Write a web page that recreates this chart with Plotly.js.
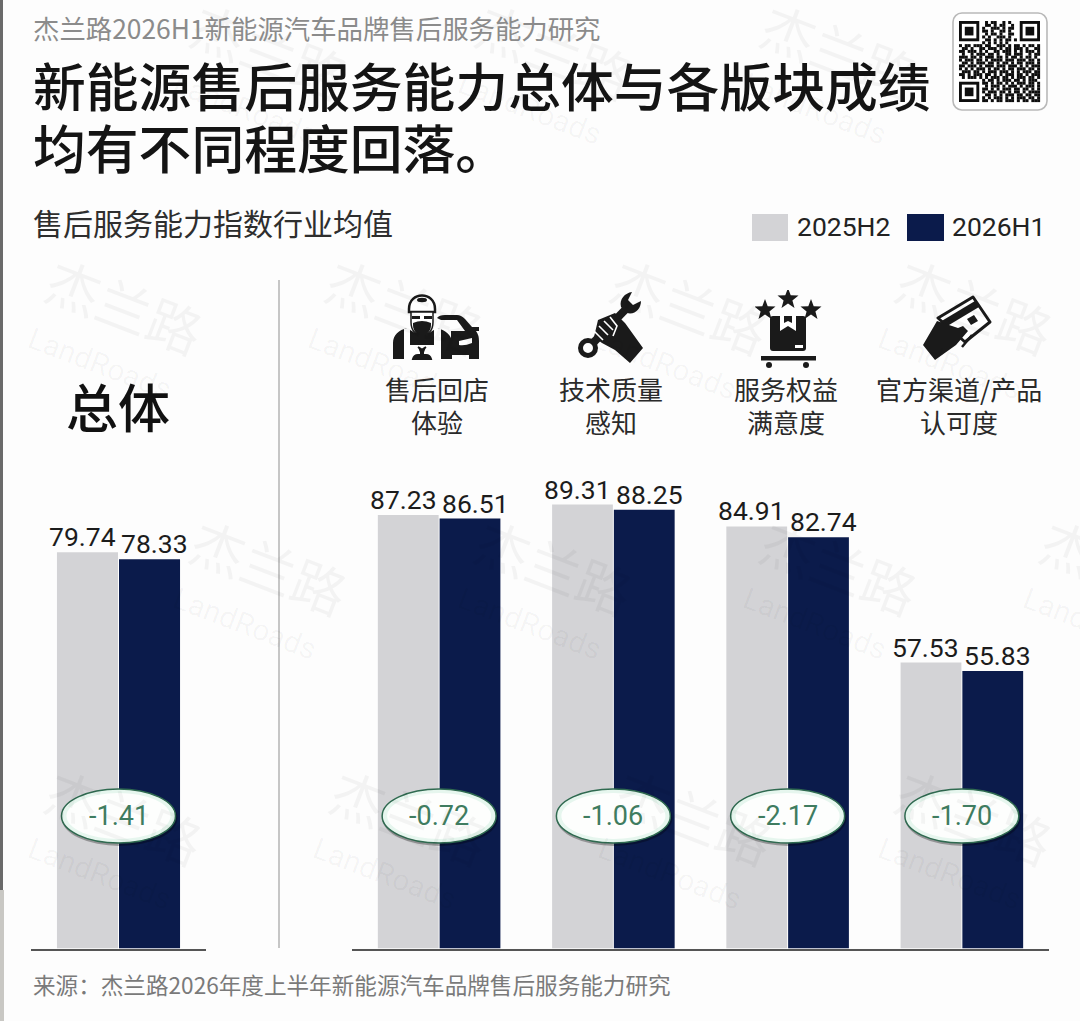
<!DOCTYPE html>
<html><head><meta charset="utf-8">
<script src="https://cdn.plot.ly/plotly-3.0.1.min.js"></script>
<style>html,body{margin:0;padding:0;background:#fdfdfd}#chart{width:1080px;height:1021px}</style>
</head><body><div id="chart"></div>
<script>
// ---- data ----
const seriesNames = ['2025H2', '2026H1'];
const overallCategory = ['总体'];
const overallPrev = [79.74];
const overallCurr = [78.33];
const overallDelta = ['-1.41'];
const categories = ['售后回店体验', '技术质量感知', '服务权益满意度', '官方渠道/产品认可度'];
const categoryLines = [['售后回店', '体验'], ['技术质量', '感知'], ['服务权益', '满意度'], ['官方渠道/产品', '认可度']];
const valuesPrev = [87.23, 89.31, 84.91, 57.53];
const valuesCurr = [86.51, 88.25, 82.74, 55.83];
const deltas = ['-0.72', '-1.06', '-2.17', '-1.70'];
const overline = '杰兰路2026H1新能源汽车品牌售后服务能力研究';
const titleLines = ['新能源售后服务能力总体与各版块成绩', '均有不同程度回落。'];
const subtitle = '售后服务能力指数行业均值';
const sourceText = '来源：杰兰路2026年度上半年新能源汽车品牌售后服务能力研究';

// ---- style ----
const GRAY = '#d3d3d6', NAVY = '#0b1b4b';
const CJK = '"Noto Sans CJK SC","Noto Sans",sans-serif';
const NUM = 'Roboto,"Noto Sans",sans-serif';
const W = 1080, H = 1021;
const px = x => x / W, py = y => 1 - y / H;

function txt(text, x, y, size, color, opt) {
  return Object.assign({xref:'paper', yref:'paper', x:px(x), y:py(y), text, showarrow:false,
    xanchor:'left', yanchor:'middle', borderpad:0,
    font:{family:CJK, size, color}}, opt||{});
}
const annotations = [];
// watermark
const wmCentres = [[270,50],[555,50],[840,50],[125,305],[405,305],[690,305],[975,305],[270,565],[555,565],[840,565],[1120,565],
  [125,815],[410,815],[695,815],[975,815]];
wmCentres.forEach(c => {
  annotations.push(txt('杰兰路', c[0], c[1], 54, 'rgba(0,0,0,0.04)', {xanchor:'center', textangle:21}));
  annotations.push(txt('LandRoads', c[0]-25, c[1]+58, 30, 'rgba(0,0,0,0.035)', {xanchor:'center', textangle:21, font:{family:NUM,size:30,color:'rgba(0,0,0,0.035)'}}));
});
// header text
annotations.push(txt(overline, 32, 28, 26.4, '#8b8b8b'));
annotations.push(txt(titleLines[0], 32, 84, 52.8, '#141414', {font:{family:CJK,size:52.8,color:'#141414',weight:500}}));
annotations.push(txt(titleLines[1], 32, 146, 52.8, '#141414', {font:{family:CJK,size:52.8,color:'#141414',weight:500}}));
annotations.push(txt(subtitle, 32, 222, 30, '#2e2e2e'));
annotations.push(txt(sourceText, 32, 984, 22.6, '#7a7a7a'));
// legend
annotations.push(txt(seriesNames[0], 796, 227, 26.5, '#222', {font:{family:NUM,size:26.5,color:'#222'}}));
annotations.push(txt(seriesNames[1], 951, 227, 26.5, '#222', {font:{family:NUM,size:26.5,color:'#222'}}));
// headings
annotations.push(txt(overallCategory[0], 118, 405, 52, '#111', {xanchor:'center', font:{family:CJK,size:52,color:'#111',weight:500}}));
categories.forEach((c,i) => {
  categoryLines[i].forEach((l,k) => {
    annotations.push({xref:'x2', yref:'paper', x:c, y:py(389+32*k), xshift:-2-(i==3?1:0), text:l, showarrow:false,
      xanchor:'center', yanchor:'middle', borderpad:0, font:{family:CJK,size:26,color:'#2a2a2a'}});
  });
});
// value labels
function valueLabel(xa, ya, cat, val, shift) {
  annotations.push({xref:xa, yref:ya, x:cat, y:val, xshift:shift, yshift:-1, text:val.toFixed(2), showarrow:false,
    xanchor:'center', yanchor:'bottom', borderpad:0, font:{family:NUM,size:26.5,color:'#1c1c1c'}});
}
valueLabel('x','y',overallCategory[0],overallPrev[0],-36);
valueLabel('x','y',overallCategory[0],overallCurr[0],36);
categories.forEach((c,i) => { valueLabel('x2','y2',c,valuesPrev[i],-36); valueLabel('x2','y2',c,valuesCurr[i],36); });

// change pills
const PILL_VALUE = 26.66;
const shapes = [];
function pill(xa, ya, cat, label) {
  const mk = (dx,dy,rx,ry,fill,line,lw) => ({type:'circle', layer:'above', xref:xa, yref:ya,
    xsizemode:'pixel', ysizemode:'pixel', xanchor:cat, yanchor:PILL_VALUE,
    x0:dx-rx, x1:dx+rx, y0:dy-ry, y1:dy+ry, fillcolor:fill, line:{color:line, width:lw}});
  shapes.push(mk(1,-2,58,28,'rgba(0,0,0,0.30)','rgba(0,0,0,0)',0));
  shapes.push(mk(0,0,57,27,'#e6f6ee','#2f6a50',1.5));
  shapes.push(mk(0,0,52,23,'#fdfefd','rgba(0,0,0,0)',0));
  annotations.push({xref:xa, yref:ya, x:cat, y:PILL_VALUE, text:label, showarrow:false,
    xanchor:'center', yanchor:'middle', borderpad:0, font:{family:NUM,size:27,color:'#3f7c60'}});
}
pill('x','y',overallCategory[0],overallDelta[0]);
categories.forEach((c,i) => pill('x2','y2',c,deltas[i]));

// static page furniture
const rect = (x0,y0,x1,y1,fill) => ({type:'rect', xref:'paper', yref:'paper', x0:px(x0), x1:px(x1), y0:py(y1), y1:py(y0), fillcolor:fill, line:{width:0}});
shapes.push(rect(0,0,3,890,'#6a6a6a'), rect(0,890,4,1021,'#c9c8c4'));
shapes.push(rect(752,214,788,241,GRAY), rect(907,214,944,241,NAVY));
shapes.push({type:'line', xref:'paper', yref:'paper', x0:px(279), x1:px(279), y0:py(280), y1:py(948), line:{color:'#c6c6c6', width:2}});

// ---- decorative images ----
const svgURI = s => 'data:image/svg+xml;charset=utf-8,' + encodeURIComponent(s);
const qrRows = [
'.........#.##..#.#..........',
'.........##.#.##..#.........',
'........#..###.#.##.........',
'........##.#..##.#..........',
'.........#.##.#..##.........',
'........#.#..###.#..........',
'.........##.#.#.##.#........',
'........#.#.#.#.#...........',
'#.##.###.##..###.#.##.#.##.#',
'.##.#..##.###.#.##.###.#..##',
'##.###.#.#..##.###.#.#.###.#',
'.#..#.###.##.#..##.###..#.##',
'###.##.#.###.##.#.##.#.##.#.',
'#.###.##.#.####.###.###.##.#',
'.##.#.###.##.#.##.#.##.###.#',
'##.###.#.###.###.###.#.#.###',
'#.#.#.###.#.##.#.##.###.##.#',
'.###.##.#.###.###.#.#.###.##',
'##.#.###.##.#.#.###.##.#.###',
'.#.###.#.#.###.##.#.###.##.#',
'........#.##.#.###.##.#.###.',
'........##.#.##.#.#.###.##.#',
'.........#.###.#.###.#.###.#',
'........##.#.#.###.##.##.#.#',
'........#.###.##.#.##.#.####',
'.........##.#.#.###.##.##.##',
'........#.#.###.#.#.###.##.#',
'........##.#.##.###.#.##.###'];
let qr = '<svg xmlns="http://www.w3.org/2000/svg" viewBox="0 0 96 99"><defs><filter id="b"><feGaussianBlur stdDeviation="0.4"/></filter></defs><rect x="1" y="1" width="94" height="97" rx="9" fill="#fff" stroke="#b9b9b9" stroke-width="1.6"/><g transform="translate(7,9)" fill="#111" filter="url(#b)">';
const M = 81/28;
qrRows.forEach((r,y)=>{ for(let x=0;x<r.length;x++) if(r[x]==='#') qr += `<rect x="${(x*M).toFixed(2)}" y="${(y*M).toFixed(2)}" width="${(M+.1).toFixed(2)}" height="${(M+.1).toFixed(2)}"/>`; });
[[0,0],[21,0],[0,21]].forEach(p=>{ const x=p[0]*M,y=p[1]*M;
  qr += `<rect x="${x}" y="${y}" width="${7*M}" height="${7*M}"/><rect x="${x+M}" y="${y+M}" width="${5*M}" height="${5*M}" fill="#fff"/><rect x="${x+2*M}" y="${y+2*M}" width="${3*M}" height="${3*M}"/>`;});
qr += '</g></svg>';

const iconMechanic = `<svg xmlns="http://www.w3.org/2000/svg" viewBox="0 0 100 80">
<path d="M52 33 Q54 30 60 30 H72 Q76 30 80 34 L87 42 H94 V46 H91 Q94 50 94 56 V74 H84 V70 H66 V46 H80 L72 35 H56Z" fill="#1a1a1a"/>
<path d="M74 56 L87 53 V58 Q80 61 74 60Z" fill="#fff"/>
<path d="M24 24 C24 6 50 6 50 24 V27 H24Z" fill="#fff" stroke="#1a1a1a" stroke-width="2.5"/>
<ellipse cx="37" cy="15" rx="5" ry="2.2" fill="#1a1a1a"/>
<path d="M26 27 H48 V37 C48 47 42 50 37 50 C32 50 26 47 26 37Z" fill="#fff" stroke="#1a1a1a" stroke-width="1.5"/>
<path d="M27 31 H35 V34 H27Z M39 31 H47 V34 H39Z" fill="#1a1a1a"/>
<path d="M28 38 Q37 34 46 38 V40 C46 47 41 50 37 50 C33 50 28 47 28 40Z" fill="#1a1a1a"/>
<path d="M8 74 V58 C8 50 14 45 22 43 L30 48 H44 L52 43 C60 45 67 50 67 58 V74Z" fill="#1a1a1a"/>
<path d="M19 74 V44 L25 42 V60 H49 V42 L56 44 V74Z" fill="#fff"/>
<path d="M28 74 Q29 70 33 70 H41 Q45 70 46 74Z M36 70 V64 L33 62 M38 70 V64 L41 62" fill="#1a1a1a" stroke="#1a1a1a" stroke-width="2"/></svg>`;
const iconWrench = `<svg xmlns="http://www.w3.org/2000/svg" viewBox="0 0 75 75">
<circle cx="13" cy="58" r="7.5" fill="none" stroke="#1a1a1a" stroke-width="5"/>
<path d="M19 52 L50 20" stroke="#1a1a1a" stroke-width="8"/>
<path d="M46 17 C44 9 50 3 57 2 L53 10 L58 15 L66 11 C66 19 60 25 52 23Z" fill="#1a1a1a"/>
<path d="M23 30 L40 23 L50 33 L68 58 L55 73 L40 60 L27 53 L19 47Z" fill="#1a1a1a"/>
<path d="M19 41 L28 50 M24 36 L33 45 M29 31 L38 40 M35 27 L42 36 L38 46" stroke="#fff" stroke-width="1.6" fill="none"/></svg>`;
const star = (cx,cy,r) => { let p=''; for(let i=0;i<10;i++){const a=-Math.PI/2+i*Math.PI/5, R=i%2?r*.42:r; p+=(i?'L':'M')+(cx+R*Math.cos(a)).toFixed(1)+' '+(cy+R*Math.sin(a)).toFixed(1);} return p+'Z'; };
const iconBox = `<svg xmlns="http://www.w3.org/2000/svg" viewBox="0 0 70 80">
<path d="${star(33,9,11)} ${star(10,20,11)} ${star(56,20,11)}" fill="#1a1a1a"/>
<path d="M15 29 Q15 26 18 26 H48 Q51 26 51 29 V58 Q51 61 48 61 H18 Q15 61 15 58Z" fill="#1a1a1a"/>
<path d="M25 26 V41 L33 36 L41 41 V26 H37 V33 L33 31 L29 33 V26Z" fill="#fff"/>
<rect x="40" y="55" width="8" height="3" fill="#fff"/>
<rect x="6" y="66" width="55" height="4.5" fill="#1a1a1a"/>
<circle cx="14" cy="75" r="3" fill="#1a1a1a"/><circle cx="51" cy="75" r="3" fill="#1a1a1a"/></svg>`;
const iconCard = `<svg xmlns="http://www.w3.org/2000/svg" viewBox="0 0 75 70">
<path d="M18 23 L53 2 L70 27 L45 47Z" fill="#fff" stroke="#1a1a1a" stroke-width="3" stroke-linejoin="round"/>
<path d="M20 27 L55 6 L59 12 L24 33Z" fill="#1a1a1a"/>
<path d="M47 24 L54 20 L58 26 L51 30Z" fill="#1a1a1a"/>
<path d="M3 50 L17 26 L38 33 L43 31 L48 36 L36 50 L15 65Z" fill="#1a1a1a"/>
<path d="M42 52 L52 40" stroke="#1a1a1a" stroke-width="2.5"/></svg>`;
const img = (svg,x0,y0,w,h) => ({source:svgURI(svg), xref:'paper', yref:'paper', x:px(x0), y:py(y0), sizex:w/W, sizey:h/H, sizing:'stretch', xanchor:'left', yanchor:'top', layer:'above'});
const images = [img(qr,952,12,96,99), img(iconMechanic,385,285,100,80), img(iconWrench,575,290,75,75), img(iconBox,755,290,70,80), img(iconCard,920,295,75,70)];

// ---- traces ----
const bar = (name,x,y,color,xa,ya) => ({type:'bar', name, x, y, xaxis:xa, yaxis:ya, marker:{color, line:{width:0}}, hoverinfo:'x+y+name', legendgroup:name, showlegend:false});
const data = [
  bar(seriesNames[0], overallCategory, overallPrev, GRAY, 'x', 'y'),
  bar(seriesNames[1], overallCategory, overallCurr, NAVY, 'x', 'y'),
  bar(seriesNames[0], categories, valuesPrev, GRAY, 'x2', 'y2'),
  bar(seriesNames[1], categories, valuesCurr, NAVY, 'x2', 'y2')
];
const yDomain = [py(948.5), py(280)];
const xCommon = {type:'category', showgrid:false, zeroline:false, showticklabels:false, ticks:'', showline:true, linecolor:'#555', linewidth:2, fixedrange:true};
const yCommon = {visible:false, range:[0,134.5], domain:yDomain, fixedrange:true};
const layout = {
  width:W, height:H, margin:{l:0,r:0,t:0,b:0}, autosize:false,
  paper_bgcolor:'#fdfdfd', plot_bgcolor:'rgba(0,0,0,0)', showlegend:false,
  barmode:'group', bargap:0.291, bargroupgap:0.016,
  xaxis:Object.assign({}, xCommon, {domain:[px(31),px(206)], anchor:'y', range:[-0.5,0.5]}),
  yaxis:Object.assign({}, yCommon, {anchor:'x'}),
  xaxis2:Object.assign({}, xCommon, {domain:[px(352),px(1049)], anchor:'y2', range:[-0.5,3.5]}),
  yaxis2:Object.assign({}, yCommon, {anchor:'x2'}),
  annotations, shapes, images
};
Plotly.newPlot('chart', data, layout, {displayModeBar:false, staticPlot:true});
</script></body></html>
